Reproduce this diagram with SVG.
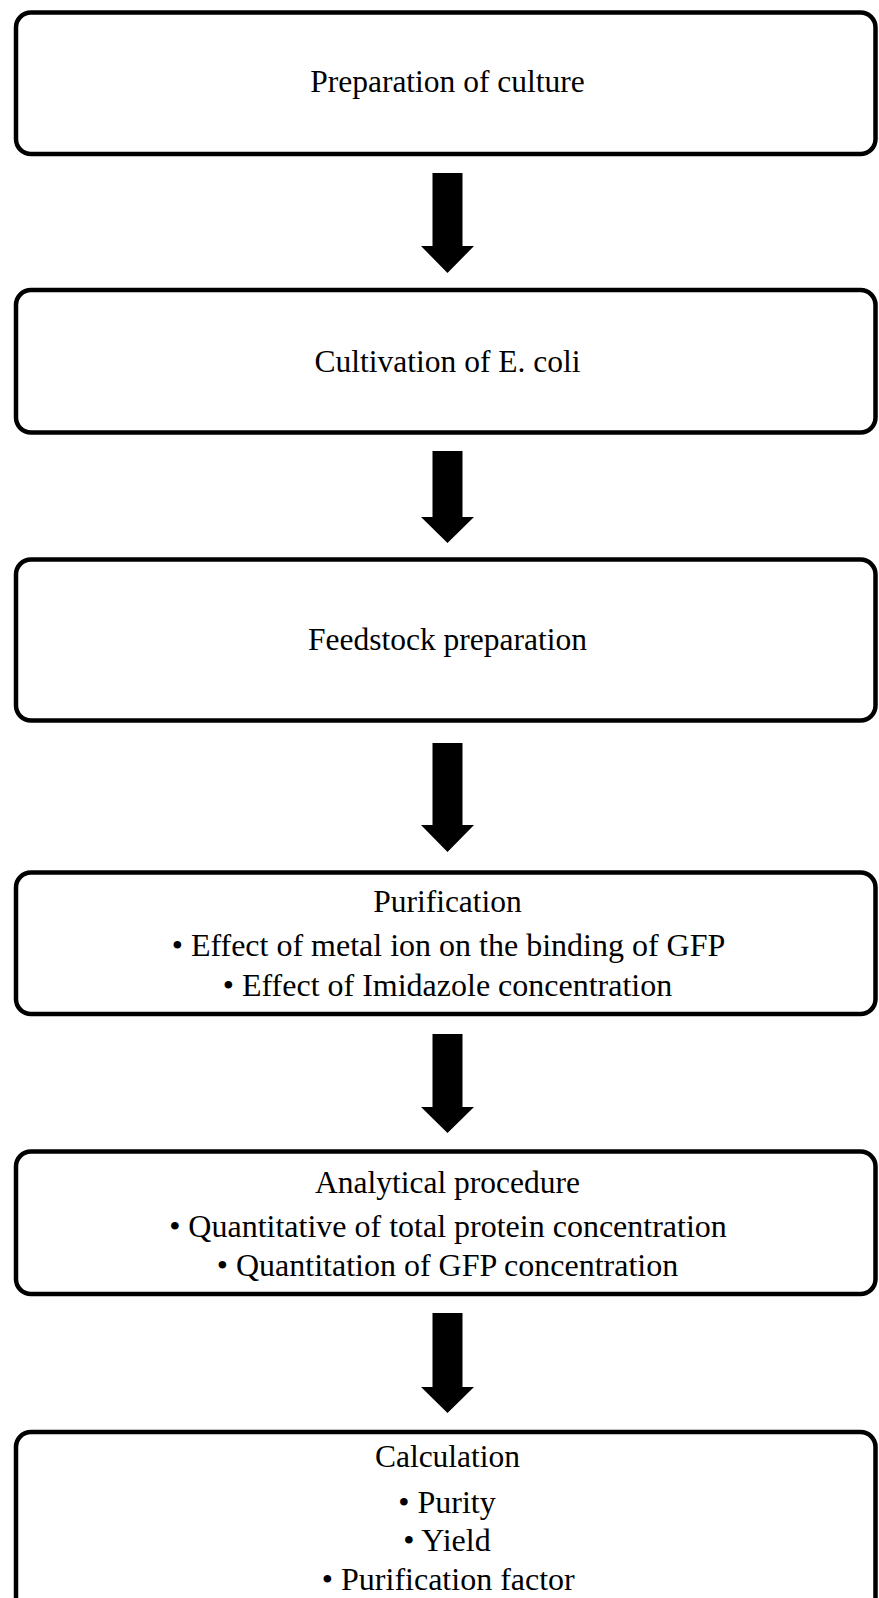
<svg xmlns="http://www.w3.org/2000/svg" width="879" height="1598" viewBox="0 0 879 1598">
<style>
.box{fill:#fff;stroke:#000;stroke-width:4.5}
.t{font-family:"Liberation Serif","Times New Roman",serif;font-size:31.5px;fill:#000;text-anchor:middle}
.b{font-family:"Liberation Serif","Times New Roman",serif;font-size:32px;fill:#000;text-anchor:middle}
.arr{fill:#000}
</style>
<rect width="879" height="1598" fill="#fff"/>
<g id="node1"><rect class="box" x="16" y="12.5" width="859.5" height="141.5" rx="15"/><text class="t" x="447.5" y="92">Preparation of culture</text></g>
<g id="node2"><rect class="box" x="16" y="290" width="859.5" height="142.5" rx="15"/><text class="t" x="447.5" y="372">Cultivation of E. coli</text></g>
<g id="node3"><rect class="box" x="16" y="559.5" width="859.5" height="161" rx="15"/><text class="t" x="447.5" y="650">Feedstock preparation</text></g>
<g id="node4"><rect class="box" x="16" y="872.5" width="859.5" height="141.5" rx="15"/><text class="t" x="447.5" y="912">Purification</text><text class="b" x="448.5" y="956">• Effect of metal ion on the binding of GFP</text><text class="b" x="447.5" y="995.5">• Effect of Imidazole concentration</text></g>
<g id="node5"><rect class="box" x="16" y="1151.5" width="859.5" height="142.5" rx="15"/><text class="t" x="447.5" y="1193">Analytical procedure</text><text class="b" x="448" y="1237">• Quantitative of total protein concentration</text><text class="b" x="447.5" y="1275.5">• Quantitation of GFP concentration</text></g>
<g id="node6"><rect class="box" x="16" y="1432" width="859.5" height="190" rx="15"/><text class="t" x="447.5" y="1467">Calculation</text><text class="b" x="447" y="1513">• Purity</text><text class="b" x="447" y="1550.5">• Yield</text><text class="b" x="448.3" y="1590">• Purification factor</text></g>
<g id="connectors">
<polygon class="arr" points="432.5,173 462.5,173 462.5,246 474,246 447.5,273 421,246 432.5,246"/>
<polygon class="arr" points="432.5,451 462.5,451 462.5,517 474,517 447.5,543 421,517 432.5,517"/>
<polygon class="arr" points="432.5,743 462.5,743 462.5,825 474,825 447.5,852 421,825 432.5,825"/>
<polygon class="arr" points="432.5,1034 462.5,1034 462.5,1107 474,1107 447.5,1133 421,1107 432.5,1107"/>
<polygon class="arr" points="432.5,1313 462.5,1313 462.5,1387 474,1387 447.5,1413 421,1387 432.5,1387"/>
</g>
</svg>
